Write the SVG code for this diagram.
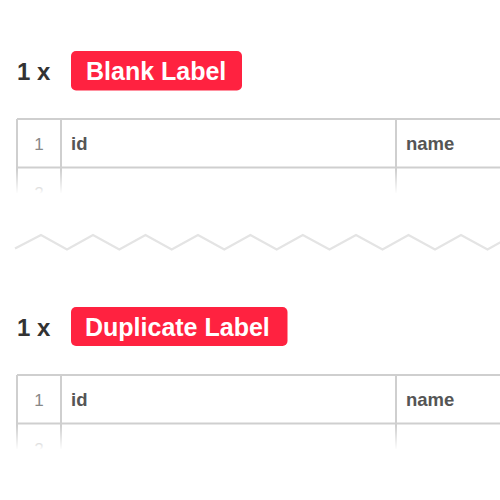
<svg xmlns="http://www.w3.org/2000/svg" width="500" height="500" viewBox="0 0 500 500">
<style>
.cnt{font-family:"Liberation Sans",Arial,sans-serif;font-weight:bold;font-size:24px;fill:#333}
.lbl{fill:#ff2240}
.lbltxt{font-family:"Liberation Sans",Arial,sans-serif;font-weight:bold;font-size:25px;fill:#fff}
.grid{stroke:#cfcfcf;stroke-width:2;fill:none}
.num{font-family:"Liberation Sans",Arial,sans-serif;font-size:17px;fill:#888;text-anchor:middle}
.hdr{font-family:"Liberation Sans",Arial,sans-serif;font-weight:bold;font-size:18.5px;fill:#555}
.zig{stroke:#e4e4e4;stroke-width:2.2;fill:none;stroke-linejoin:miter}
</style>
<defs>
<linearGradient id="fade" x1="0" y1="0" x2="0" y2="1">
<stop offset="0" stop-color="#fff" stop-opacity="0"/>
<stop offset="1" stop-color="#fff" stop-opacity="1"/>
</linearGradient>
</defs>
<rect width="500" height="500" fill="#fff"/>
<g id="section1">
<text class="cnt" x="17" y="80">1 x</text>
<rect class="lbl" x="71" y="51" width="171" height="39.5" rx="5"/>
<text class="lbltxt" x="86" y="80">Blank Label</text>
<g id="table1">
<path class="grid" d="M17,119 H502 M17,167.5 H502 M17,119 V215 M61,119 V215 M396,119 V215"/>
<text class="num" x="39" y="150">1</text>
<text class="hdr" x="71" y="150">id</text>
<text class="hdr" x="406" y="150">name</text>
<text class="num" x="39" y="199">2</text>
<rect x="0" y="170" width="500" height="24" fill="url(#fade)"/>
<rect x="0" y="193.5" width="500" height="25" fill="#fff"/>
</g>
</g>
<g id="connectors">
<polyline class="zig" points="15,248.5 41,235 67,249.5 93,235 119.3,249.5 145.5,235 171.7,249.5 198,235 224.3,249.5 250.4,235 276.7,249.5 302.8,235 329.5,249.5 356,235 382.5,249.5 408.5,235 435,249.5 461,235 487.5,249.5 513,235"/>
</g>
<g id="section2" transform="translate(0,256)">
<text class="cnt" x="17" y="80">1 x</text>
<rect class="lbl" x="71" y="51" width="216.5" height="39" rx="5"/>
<text class="lbltxt" x="85" y="80">Duplicate Label</text>
<g id="table2">
<path class="grid" d="M17,119 H502 M17,167.5 H502 M17,119 V215 M61,119 V215 M396,119 V215"/>
<text class="num" x="39" y="150">1</text>
<text class="hdr" x="71" y="150">id</text>
<text class="hdr" x="406" y="150">name</text>
<text class="num" x="39" y="199">2</text>
<rect x="0" y="170" width="500" height="24" fill="url(#fade)"/>
<rect x="0" y="193.5" width="500" height="50" fill="#fff"/>
</g>
</g>
</svg>
